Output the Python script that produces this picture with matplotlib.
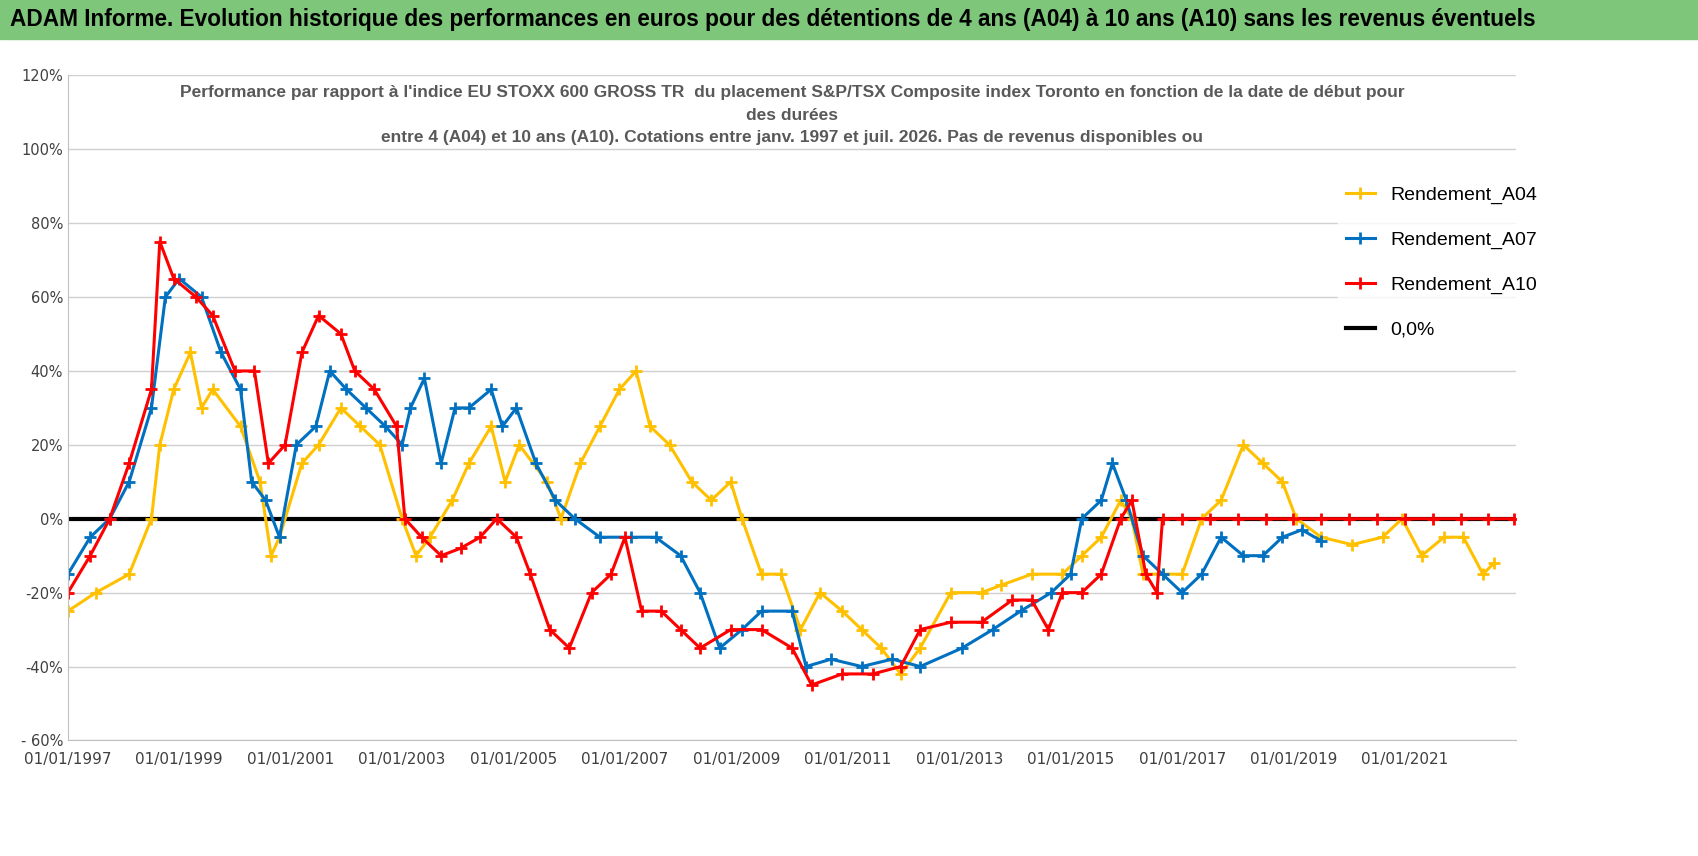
import matplotlib
matplotlib.use("Agg")
import matplotlib.pyplot as plt
import datetime as dt

def d(y):
    yr = int(y); frac = y - yr
    return dt.datetime(yr, 1, 1) + dt.timedelta(days=frac * 365.25)

a04_t = [1997.0,1997.5,1998.1,1998.5,1998.65,1998.9,1999.2,1999.4,1999.6,2000.1,2000.45,2000.65,2000.8,2001.2,2001.5,2001.9,2002.25,2002.6,2003.0,2003.25,2003.5,2003.9,2004.2,2004.6,2004.85,2005.1,2005.6,2005.85,2006.2,2006.55,2006.9,2007.2,2007.45,2007.8,2008.2,2008.55,2008.9,2009.1,2009.45,2009.8,2010.15,2010.5,2010.9,2011.25,2011.6,2011.95,2012.3,2012.85,2013.4,2013.75,2014.3,2014.85,2015.2,2015.55,2015.9,2016.1,2016.3,2016.65,2017.0,2017.35,2017.7,2018.1,2018.45,2018.8,2019.05,2019.5,2020.05,2020.6,2020.95,2021.3,2021.7,2022.05,2022.4,2022.6]
a04_v = [-25,-20,-15,0,20,35,45,30,35,25,10,-10,-5,15,20,30,25,20,0,-10,-5,5,15,25,10,20,10,0,15,25,35,40,25,20,10,5,10,0,-15,-15,-30,-20,-25,-30,-35,-42,-35,-20,-20,-18,-15,-15,-10,-5,5,0,-15,-15,-15,0,5,20,15,10,0,-5,-7,-5,0,-10,-5,-5,-15,-12]
a07_t = [1997.0,1997.4,1997.75,1998.1,1998.5,1998.75,1999.0,1999.4,1999.75,2000.1,2000.3,2000.55,2000.8,2001.1,2001.45,2001.7,2002.0,2002.35,2002.7,2003.0,2003.15,2003.4,2003.7,2003.95,2004.2,2004.6,2004.8,2005.05,2005.4,2005.75,2006.1,2006.55,2007.1,2007.55,2008.0,2008.35,2008.7,2009.1,2009.45,2010.0,2010.25,2010.7,2011.25,2011.8,2012.3,2013.05,2013.6,2014.1,2014.65,2015.0,2015.2,2015.55,2015.75,2016.0,2016.3,2016.65,2017.0,2017.35,2017.7,2018.1,2018.45,2018.8,2019.15,2019.5]
a07_v = [-15,-5,0,10,30,60,65,60,45,35,10,5,-5,20,25,40,35,30,25,20,30,38,15,30,30,35,25,30,15,5,0,-5,-5,-5,-10,-20,-35,-30,-25,-25,-40,-38,-40,-38,-40,-35,-30,-25,-20,-15,0,5,15,5,-10,-15,-20,-15,-5,-10,-10,-5,-3,-6]
a10_t = [1997.0,1997.4,1997.75,1998.1,1998.5,1998.65,1998.9,1999.3,1999.6,2000.0,2000.35,2000.6,2000.9,2001.2,2001.5,2001.9,2002.15,2002.5,2002.9,2003.05,2003.35,2003.7,2004.05,2004.4,2004.7,2005.05,2005.3,2005.65,2006.0,2006.4,2006.75,2007.0,2007.3,2007.65,2008.0,2008.35,2008.9,2009.45,2010.0,2010.35,2010.9,2011.45,2011.95,2012.3,2012.85,2013.4,2013.95,2014.3,2014.6,2014.85,2015.2,2015.55,2015.9,2016.1,2016.35,2016.55,2016.65,2017.0,2017.5,2018.0,2018.5,2019.0,2019.5,2020.0,2020.5,2021.0,2021.5,2022.0,2022.5,2022.95]
a10_v = [-20,-10,0,15,35,75,65,60,55,40,40,15,20,45,55,50,40,35,25,0,-5,-10,-8,-5,0,-5,-15,-30,-35,-20,-15,-5,-25,-25,-30,-35,-30,-30,-35,-45,-42,-42,-40,-30,-28,-28,-22,-22,-30,-20,-20,-15,0,5,-15,-20,0,0,0,0,0,0,0,0,0,0,0,0,0,0]

fig = plt.figure(figsize=(16.98, 8.56), dpi=100)
fig.patch.set_facecolor("white")
fig.patches.append(plt.Rectangle((0, 0.955), 1, 0.045, transform=fig.transFigure, color="#7dc67a", zorder=0))
fig.text(0.006, 0.977, "ADAM Informe. Evolution historique des performances en euros pour des détentions de 4 ans (A04) à 10 ans (A10) sans les revenus éventuels",
         fontsize=16.3, fontweight="bold", va="center", ha="left", family="Liberation Sans")

ax = fig.add_axes([0.040, 0.135, 0.853, 0.777])
series = [(a04_t, a04_v, "#ffc000", "Rendement_A04"),
          (a07_t, a07_v, "#0070c0", "Rendement_A07"),
          (a10_t, a10_v, "#ff0000", "Rendement_A10")]
for t, v, c, lab in series:
    ax.plot([d(x) for x in t], [y / 100 for y in v], color=c, marker="+", ms=9, mew=2, lw=2.2, label=lab)
ax.axhline(0, color="black", lw=3, label="0,0%", zorder=1)

ax.set_xlim(d(1997.0), d(2023.0))
ax.set_ylim(-0.6, 1.2)
ax.set_yticks([i / 10 for i in range(-6, 13, 2)])
ax.set_yticklabels(["- 60%", "-40%", "-20%", "0%", "20%", "40%", "60%", "80%", "100%", "120%"], fontsize=10.5, color="#404040")
ticks = [dt.datetime(y, 1, 1) for y in range(1997, 2022, 2)]
ax.set_xticks(ticks)
ax.set_xticklabels([t.strftime("01/01/%Y") for t in ticks], fontsize=11, color="#404040")
ax.tick_params(axis="x", pad=8)
ax.grid(axis="y", color="#d0d0d0", lw=1)
ax.set_axisbelow(True)
for s in ["top", "right"]:
    ax.spines[s].set_visible(False)
ax.spines["left"].set_color("#c0c0c0")
ax.spines["bottom"].set_color("#c0c0c0")
ax.tick_params(length=0)
ax.text(0.5, 0.985, "Performance par rapport à l'indice EU STOXX 600 GROSS TR  du placement S&P/TSX Composite index Toronto en fonction de la date de début pour\ndes durées\nentre 4 (A04) et 10 ans (A10). Cotations entre janv. 1997 et juil. 2026. Pas de revenus disponibles ou",
        transform=ax.transAxes, ha="center", va="top", fontsize=12.5, fontweight="bold", color="#595959",
        family="Liberation Sans", linespacing=1.6)
leg = ax.legend(loc="upper left", bbox_to_anchor=(0.87, 0.86), frameon=True,
                prop={"family": "Liberation Sans", "size": 14}, labelspacing=1.4, handlelength=1.5)
leg.get_frame().set_edgecolor("white")
fig.savefig("out.png", dpi=100)
